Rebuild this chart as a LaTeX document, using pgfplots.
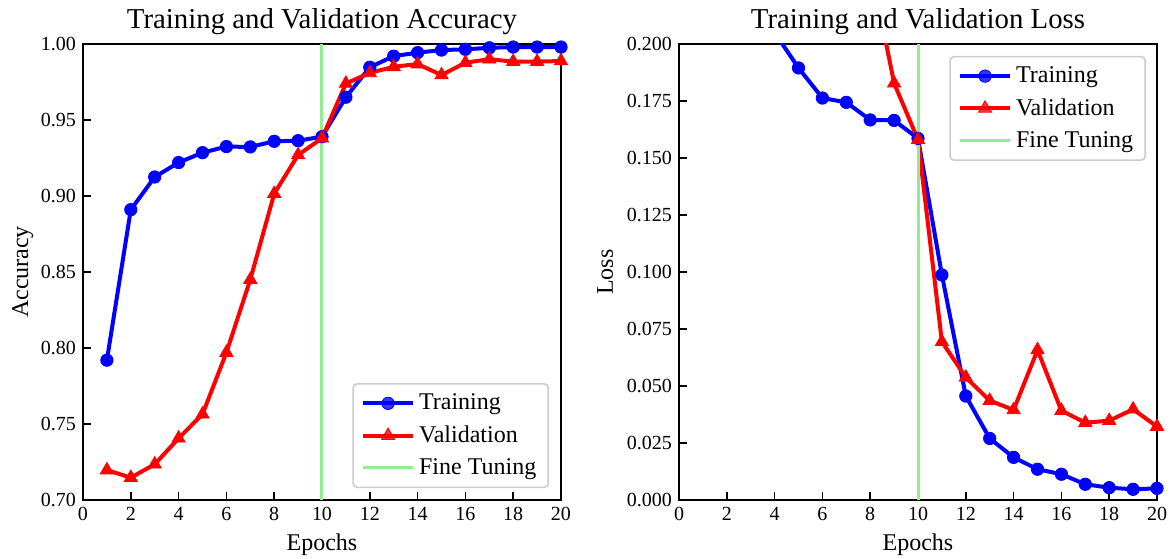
\documentclass[border=0pt]{standalone}
\usepackage{fontspec}
\setmainfont{Liberation Serif}
\usepackage{pgfplots}
\pgfplotsset{compat=1.18}
\definecolor{ftgreen}{HTML}{90EE90}
\definecolor{legframe}{gray}{0.8}
\pgfplotsset{
  mystyle/.style={
    scale only axis, width=239pt, height=228pt,
    xmin=0, xmax=20, xtick={0,2,...,20},
    tick align=inside, xtick pos=bottom, ytick pos=left,
    major tick length=4pt,
    every tick/.style={black, line width=0.8pt},
    axis line style={line width=1pt},
    tick label style={font=\fontsize{10}{12}\selectfont},
    label style={font=\fontsize{12}{14}\selectfont},
    title style={font=\fontsize{14.4}{16}\selectfont, yshift=-5pt},
    /pgf/number format/assume math mode=true,
    legend style={font=\fontsize{12}{14}\selectfont, draw=legframe, rounded corners=2pt,
      line width=0.8pt, inner xsep=4pt, inner ysep=3pt, row sep=2.5pt,
      fill=white, fill opacity=0.8, text opacity=1},
    legend cell align=left,
    legend image code/.code={\draw[mark repeat=2,mark phase=2,#1] plot coordinates {(0pt,0pt) (12.5pt,0pt) (25pt,0pt)};},
    trainstyle/.style={blue, line width=2pt, mark=*, mark size=3.1pt, mark options={solid, line width=0.4pt}},
    valstyle/.style={red, line width=2pt, mark=triangle*, mark size=3.8pt, mark options={solid, line width=0.4pt}},
    ftstyle/.style={ftgreen, line width=1.5pt},
  }
}
\begin{document}
\begin{tikzpicture}
\begin{axis}[mystyle, at={(0,0)}, anchor=south west,
  ymin=0.70, ymax=1.00, ytick={0.70,0.75,...,1.001},
  yticklabel style={/pgf/number format/fixed, /pgf/number format/fixed zerofill, /pgf/number format/precision=2},
  title={Training and Validation Accuracy}, xlabel={Epochs}, ylabel={Accuracy},
  ylabel style={yshift=-3pt},
  legend style={at={(0.975,0.026)}, anchor=south east}]
\addplot[trainstyle] coordinates {
(1,0.792) (2,0.891) (3,0.9125) (4,0.922) (5,0.9285) (6,0.9325) (7,0.9323) (8,0.936) (9,0.9364) (10,0.939)
(11,0.965) (12,0.9847) (13,0.992) (14,0.9943) (15,0.996) (16,0.9965) (17,0.9975) (18,0.998) (19,0.998) (20,0.998)};
\addlegendentry{Training}
\addplot[valstyle] coordinates {
(1,0.7197) (2,0.7147) (3,0.7235) (4,0.7406) (5,0.7564) (6,0.797) (7,0.845) (8,0.9015) (9,0.927) (10,0.938)
(11,0.974) (12,0.981) (13,0.985) (14,0.9868) (15,0.9796) (16,0.9877) (17,0.990) (18,0.9884) (19,0.9884) (20,0.9888)};
\addlegendentry{Validation}
\addplot[ftstyle] coordinates {(10,0.70) (10,1.00)};
\addlegendentry{Fine Tuning}
\end{axis}
\begin{axis}[mystyle, at={(298pt,0)}, anchor=south west,
  ymin=0, ymax=0.2, ytick={0,0.025,...,0.2001},
  yticklabel style={/pgf/number format/fixed, /pgf/number format/fixed zerofill, /pgf/number format/precision=3},
  title={Training and Validation Loss}, xlabel={Epochs}, ylabel={Loss},
  legend style={at={(0.977,0.974)}, anchor=north east}]
\addplot[trainstyle] coordinates {
(1,0.45) (2,0.28) (3,0.23) (4,0.205) (5,0.1895) (6,0.1763) (7,0.1744) (8,0.1667) (9,0.1665) (10,0.1586)
(11,0.0987) (12,0.0456) (13,0.0270) (14,0.0187) (15,0.0135) (16,0.0113) (17,0.0069) (18,0.0054) (19,0.0047) (20,0.0051)};
\addlegendentry{Training}
\addplot[valstyle] coordinates {
(1,0.65) (2,0.60) (3,0.55) (4,0.50) (5,0.45) (6,0.40) (7,0.32) (8,0.235) (9,0.1828) (10,0.158)
(11,0.0694) (12,0.0538) (13,0.0436) (14,0.0395) (15,0.0658) (16,0.0392) (17,0.0339) (18,0.0348) (19,0.0398) (20,0.0322)};
\addlegendentry{Validation}
\addplot[ftstyle] coordinates {(10,0) (10,0.2)};
\addlegendentry{Fine Tuning}
\end{axis}
\pgfresetboundingbox
\path[use as bounding box] (-41.5pt,-29pt) rectangle (545.5pt,250pt);
\end{tikzpicture}
\end{document}
